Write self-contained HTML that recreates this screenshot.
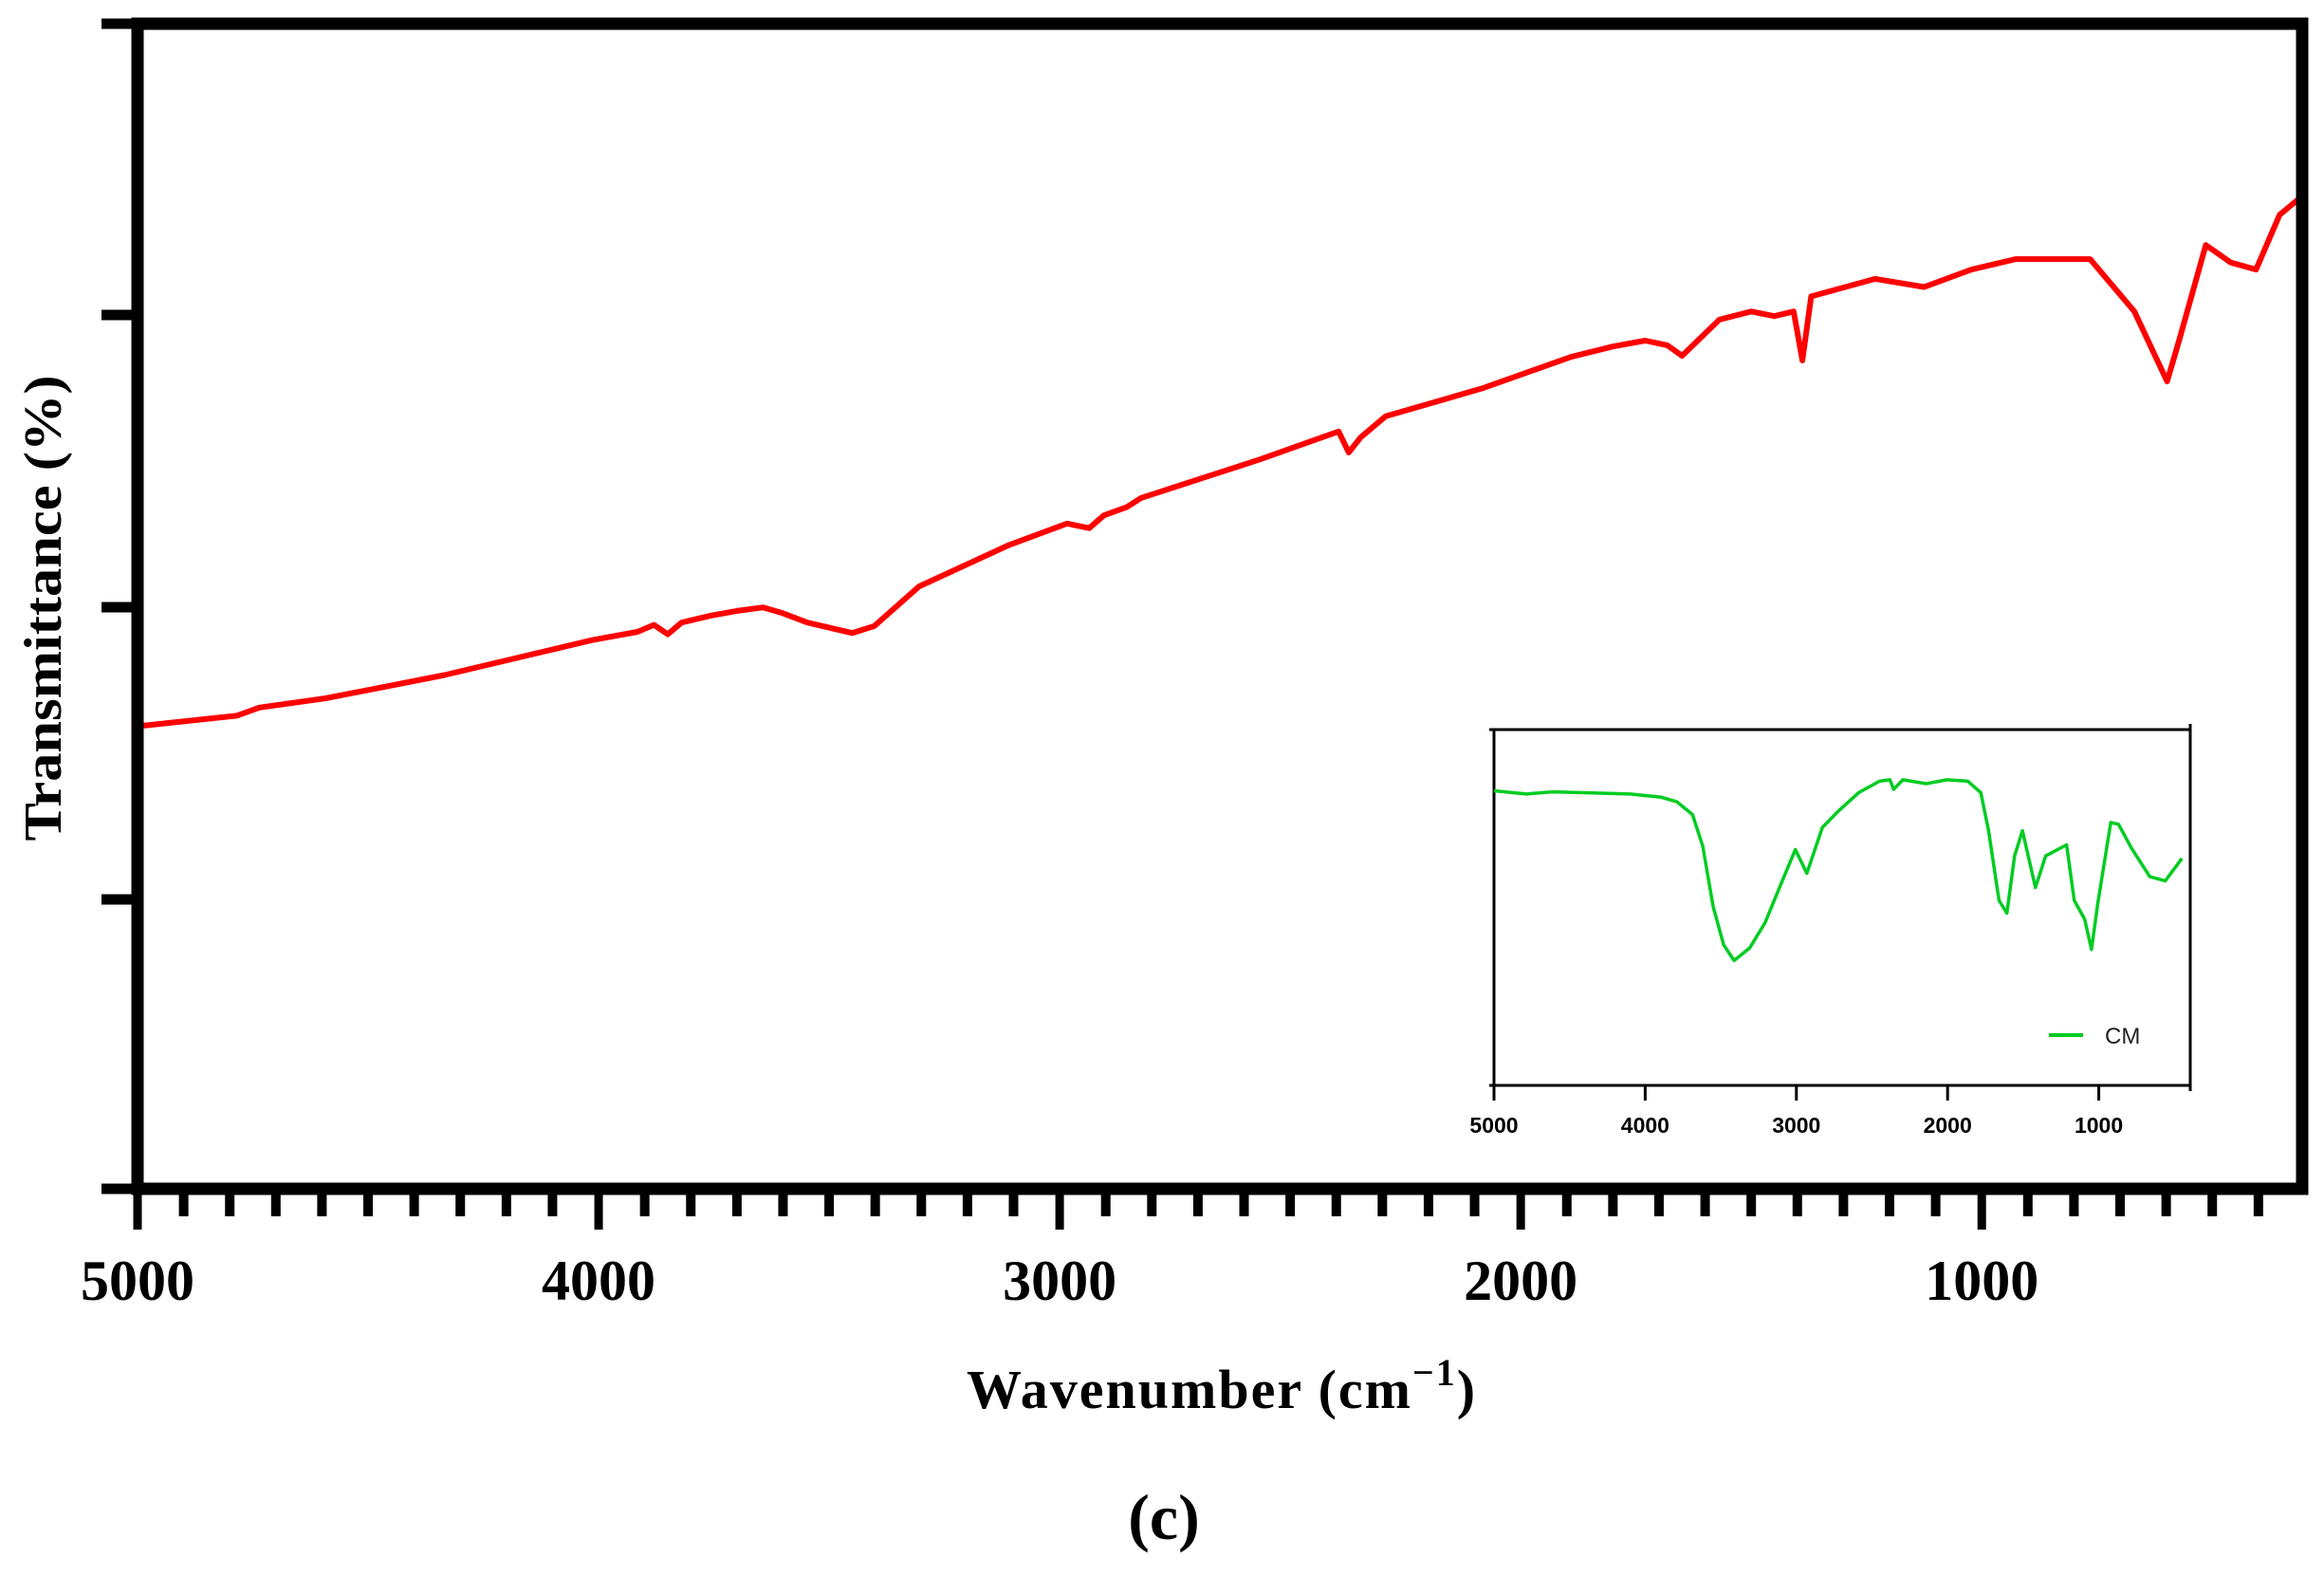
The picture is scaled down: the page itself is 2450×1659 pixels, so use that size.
<!DOCTYPE html>
<html><head><meta charset="utf-8"><style>
html,body{margin:0;padding:0;background:#fff;}
svg{display:block;}
</style></head><body>
<svg id="chart" width="2450" height="1659" viewBox="0 0 2450 1659" xmlns="http://www.w3.org/2000/svg">
<g id="main"></g>
<g id="inset"></g>
<text x="0" y="0" transform="translate(64,641) rotate(-90)" text-anchor="middle" font-family="Liberation Serif, serif" font-weight="bold" font-size="56" textLength="491" lengthAdjust="spacingAndGlyphs">Transmittance (%)</text>
<text x="1019" y="1484" font-family="Liberation Serif, serif" font-weight="bold" font-size="58" letter-spacing="2">Wavenumber (cm<tspan dy="-24" font-size="40">−1</tspan><tspan dy="24">)</tspan></text>
<text x="1227" y="1622" text-anchor="middle" font-family="Liberation Serif, serif" font-weight="bold" font-size="68">(c)</text>
</svg>
<script>
// main series (red)
const redWn = [5000,4785,4736,4592,4334,4013,3916,3880,3850,3820,3756,3700,3643,3600,3547,3450,3402,3305,3113,2984,2936,2904,2855,2823,2566,2395,2373,2347,2293,2084,1891,1800,1730,1682,1650,1569,1500,1450,1408,1389,1370,1231,1125,1022,926,765,669,598,572,514,460,405,354,305];
const redT = [39.7,40.6,41.3,42.1,44.1,47.1,47.8,48.4,47.6,48.6,49.2,49.6,49.9,49.4,48.6,47.7,48.3,51.7,55.2,57.1,56.7,57.8,58.5,59.3,62.6,65.0,63.2,64.5,66.3,68.7,71.4,72.3,72.8,72.4,71.5,74.6,75.3,74.9,75.3,71.1,76.6,78.1,77.4,78.9,79.8,79.8,75.3,69.3,72.8,81.0,79.5,78.9,83.6,85.2];
const xTickLabels = [5000,4000,3000,2000,1000];
// inset series (green, CM)
const cmWn = [5000,4787,4615,4100,3893,3790,3687,3619,3550,3481,3412,3309,3206,3103,3007,2931,2828,2725,2588,2450,2381,2357,2296,2141,2003,1866,1780,1729,1660,1608,1557,1505,1419,1351,1213,1162,1093,1048,1007,921,869,784,663,560,450];
const cmT = [82.8,81.9,82.5,81.9,81.0,79.7,76.1,67.2,50.2,39.5,35.1,38.6,45.8,56.5,66.3,59.6,72.5,77.0,82.3,85.5,85.9,83.2,85.9,84.8,85.9,85.5,82.3,71.6,52.0,48.4,64.5,71.6,55.6,64.5,67.6,52.0,46.7,38.2,51.1,73.9,73.4,66.7,58.7,57.5,63.8];
const insetTickLabels = [5000,4000,3000,2000,1000];

const NS='http://www.w3.org/2000/svg';
function mk(tag, attrs, parent){const e=document.createElementNS(NS,tag);for(const k in attrs)e.setAttribute(k,attrs[k]);parent.appendChild(e);return e;}

const M={l:145,r:2427,t:25,b:1253,x0:5000,x1:305};
const mx=w=>M.l+(M.x0-w)/(M.x0-M.x1)*(M.r-M.l);
const my=v=>M.b-v/100*(M.b-M.t);
const main=document.getElementById('main');
let d='';
redWn.forEach((w,i)=>{d+=(i?'L':'M')+mx(w).toFixed(1)+','+my(redT[i]).toFixed(1);});
let p=mk('path',{d:d,fill:'none',stroke:'#ff0000','stroke-width':6,'stroke-linejoin':'round'},main);


let f=mk('rect',{x:M.l,y:M.t,width:M.r-M.l,height:M.b-M.t,fill:'none',stroke:'#000','stroke-width':13},main);


[25,332,640,948,1253].forEach(y=>{
  const t=mk('line',{x1:107,x2:M.l,y1:y,y2:y,stroke:'#000','stroke-width':11},main);
  
  
});
for(let w=5000;w>=M.x1;w-=100){
  const major=w%1000===0;
  const t=mk('line',{x1:mx(w),x2:mx(w),y1:M.b,y2:major?1296:1282,stroke:'#000','stroke-width':major?9:10},main);
  
  
}
xTickLabels.forEach(w=>{
  const t=mk('text',{x:mx(w),y:1370,'text-anchor':'middle','font-family':'Liberation Serif, serif','font-weight':'bold','font-size':60},main);
  t.textContent=w;
  
  
});

const I={l:1575,r:2309,t:769,b:1144,x0:5000,x1:395};
const ix=w=>I.l+(I.x0-w)/(I.x0-I.x1)*(I.r-I.l);
const iy=v=>I.b-v/100*(I.b-I.t);
const inset=document.getElementById('inset');
let bg=mk('rect',{x:I.l,y:I.t,width:I.r-I.l,height:I.b-I.t,fill:'#fff',stroke:'#000','stroke-width':3},inset);


let d2='';
cmWn.forEach((w,i)=>{d2+=(i?'L':'M')+ix(w).toFixed(1)+','+iy(cmT[i]).toFixed(1);});
let p2=mk('path',{d:d2,fill:'none',stroke:'#00cc22','stroke-width':3.5,'stroke-linejoin':'round'},inset);


insetTickLabels.forEach(w=>{
  const t=mk('line',{x1:ix(w),x2:ix(w),y1:I.b,y2:I.b+16,stroke:'#000','stroke-width':3},inset);
  
  
  const l=mk('text',{x:ix(w),y:I.b+50,'text-anchor':'middle','font-family':'Liberation Sans, sans-serif','font-weight':'bold','font-size':23},inset);
  l.textContent=w;
  
  
});
[[I.l-5,I.t,I.l+5,I.t],[I.r,I.t-6,I.r,I.t+6],[I.r,I.b,I.r,I.b+6],[I.l-5,I.b,I.l,I.b]].forEach(c=>{
  const t=mk('line',{x1:c[0],y1:c[1],x2:c[2],y2:c[3],stroke:'#000','stroke-width':3},inset);
  
  
});
let lg=mk('line',{x1:2160,x2:2196,y1:1091,y2:1091,stroke:'#00cc22','stroke-width':4},inset);


let lt=mk('text',{x:2219,y:1100,'font-family':'Liberation Sans, sans-serif','font-size':24,fill:'#222'},inset);
lt.textContent='CM';


</script>
</body></html>
